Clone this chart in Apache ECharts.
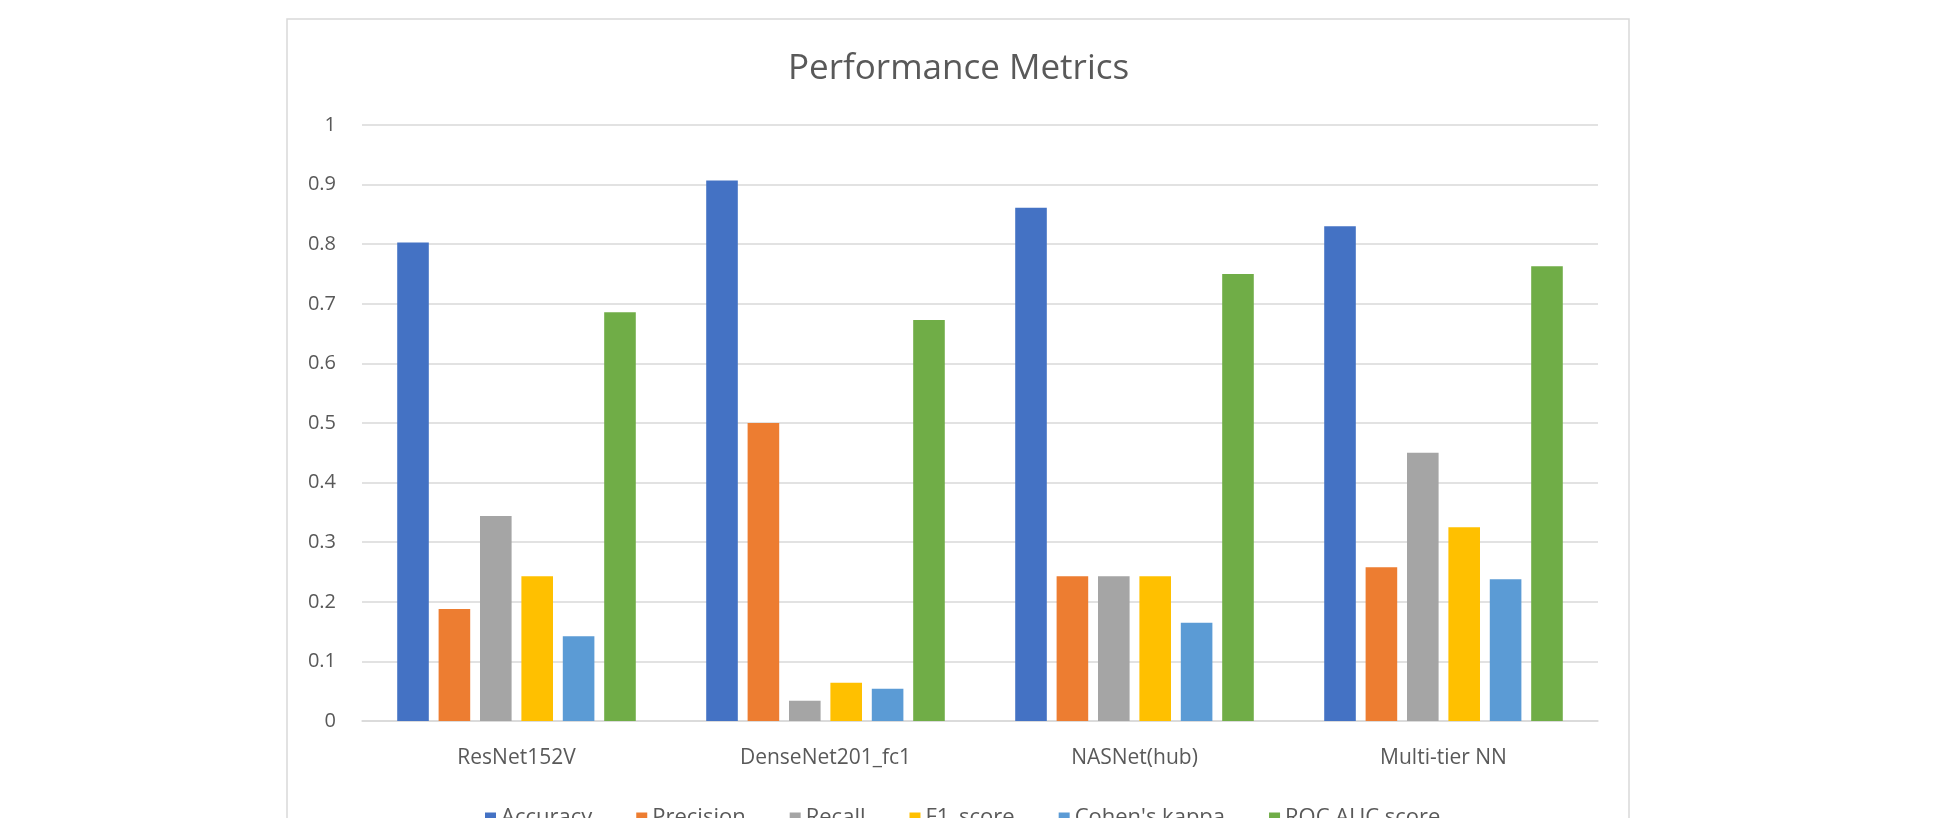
<!DOCTYPE html>
<html>
<head>
<meta charset="utf-8">
<title>Performance Metrics</title>
<script src="https://cdn.jsdelivr.net/npm/echarts@6/dist/echarts.min.js"></script>
<style>
  html, body { margin: 0; padding: 0; background: #ffffff; }
  #chart { width: 1948px; height: 818px; }
</style>
</head>
<body>
<div id="chart"></div>
<script>
// Models compared
const models = ['ResNet152V', 'DenseNet201_fc1', 'NASNet(hub)', 'Multi-tier NN'];

// Metric names (legend order)
const metrics = ['Accuracy', 'Precision', 'Recall', 'F1_score', "Cohen's kappa", 'ROC AUC score'];

// Scores per metric, one value per model
const accuracy  = [0.803, 0.907, 0.861, 0.830];
const precision = [0.188, 0.500, 0.243, 0.258];
const recall    = [0.344, 0.034, 0.243, 0.450];
const f1Score   = [0.243, 0.064, 0.243, 0.325];
const cohenKappa = [0.142, 0.054, 0.165, 0.238];
const rocAuc    = [0.686, 0.673, 0.750, 0.763];

// Y axis ticks
const yTicks = [0, 0.1, 0.2, 0.3, 0.4, 0.5, 0.6, 0.7, 0.8, 0.9, 1];

const seriesValues = [accuracy, precision, recall, f1Score, cohenKappa, rocAuc];
const palette = ['#4472C4', '#ED7D31', '#A5A5A5', '#FFC000', '#5B9BD5', '#70AD47'];

const textColor = '#595959';
const fontFamily = '"Open Sans", "Noto Sans", sans-serif';

const chart = echarts.init(document.getElementById('chart'), null, { renderer: 'canvas' });

chart.setOption({
  backgroundColor: '#ffffff',
  animation: false,
  color: palette,
  title: {
    text: 'Performance Metrics',
    left: 788,
    top: 52,
    padding: 0,
    textStyle: {
      color: textColor,
      fontFamily: fontFamily,
      fontSize: 35,
      fontWeight: 'normal'
    }
  },
  graphic: [{
    // chart frame
    type: 'rect',
    silent: true,
    z: -1,
    shape: { x: 287, y: 19, width: 1342, height: 830 },
    style: { fill: 'none', stroke: '#D9D9D9', lineWidth: 1.5 }
  }],
  legend: {
    data: metrics,
    left: 485,
    top: 807,
    padding: 0,
    icon: 'rect',
    itemWidth: 11,
    itemHeight: 11,
    itemGap: 44,
    textStyle: {
      color: textColor,
      fontFamily: fontFamily,
      fontSize: 22
    }
  },
  grid: {
    left: 362,
    right: 350,
    top: 125,
    bottom: 97,
    containLabel: false
  },
  xAxis: {
    type: 'category',
    data: models,
    axisTick: { show: false },
    axisLine: { show: true, lineStyle: { color: '#D9D9D9', width: 1.5 } },
    axisLabel: {
      color: textColor,
      fontFamily: fontFamily,
      fontSize: 21,
      margin: 27
    }
  },
  yAxis: {
    type: 'value',
    min: yTicks[0],
    max: yTicks[yTicks.length - 1],
    interval: yTicks[1] - yTicks[0],
    axisLine: { show: false },
    axisTick: { show: false },
    splitLine: { show: true, lineStyle: { color: '#D9D9D9', width: 1.5 } },
    axisLabel: {
      color: textColor,
      fontFamily: fontFamily,
      fontSize: 20,
      margin: 26
    }
  },
  series: metrics.map((name, i) => ({
    name: name,
    type: 'bar',
    data: seriesValues[i],
    barWidth: 31.6,
    barGap: '31%',
    itemStyle: { color: palette[i] }
  }))
});
</script>
</body>
</html>
